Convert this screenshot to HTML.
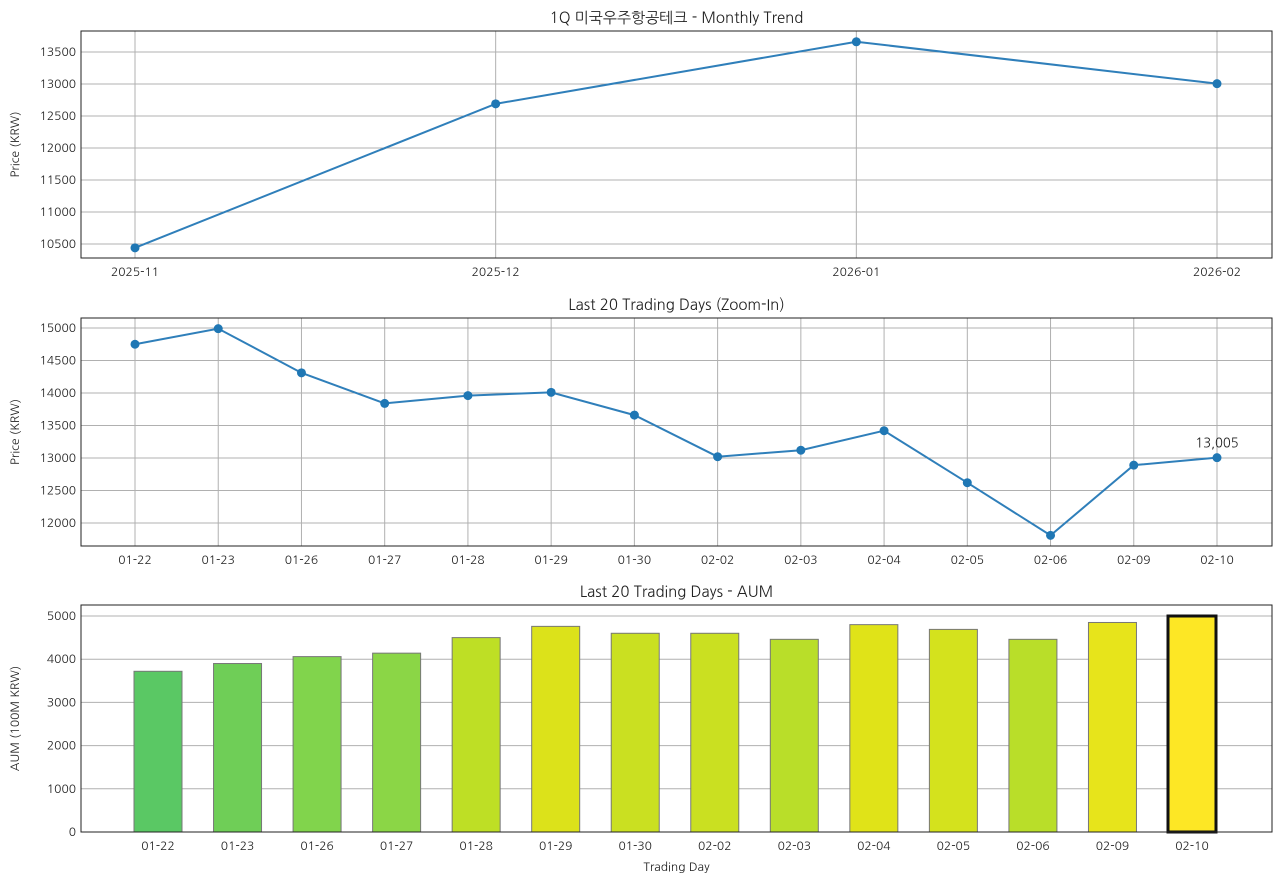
<!DOCTYPE html>
<html><head><meta charset="utf-8">
<style>
body{margin:0;background:#fff;}
svg text{font-family:"NanumGothic","Liberation Sans","Noto Sans CJK KR",sans-serif;fill:#222;}
</style></head>
<body>
<svg id="chart" width="1280" height="883" xmlns="http://www.w3.org/2000/svg"></svg>
<script>
const monthLabels = ["2025-11","2025-12","2026-01","2026-02"];
const monthValues = [10440, 12690, 13660, 13005];
const dayLabels = ["01-22","01-23","01-26","01-27","01-28","01-29","01-30","02-02","02-03","02-04","02-05","02-06","02-09","02-10"];
const dayValues = [14750,14990,14310,13840,13960,14010,13660,13020,13120,13420,12620,11810,12890,13005];
const aumValues = [3720,3900,4060,4140,4500,4760,4600,4600,4460,4800,4690,4460,4850,5000];
const ticks1 = [10500,11000,11500,12000,12500,13000,13500];
const ticks2 = [12000,12500,13000,13500,14000,14500,15000];
const ticks3 = [0,1000,2000,3000,4000,5000];

const svg = document.getElementById('chart');
const NS = 'http://www.w3.org/2000/svg';
function mk(tag, attrs, parent){const e=document.createElementNS(NS,tag);for(const k in attrs)e.setAttribute(k,attrs[k]);(parent||svg).appendChild(e);return e;}
function txt(s, attrs){const e=mk('text',attrs);e.textContent=s;return e;}

const L=81,R=1272;
function panel(top,bottom,title,ylabel,name){
  const g=mk('g',{});
  
  
  const t=txt(title,{x:(L+R)/2,y:top-8,'text-anchor':'middle','font-size':15});
  
  const yl=txt(ylabel,{x:0,y:0,'text-anchor':'middle','font-size':12,transform:`translate(19,${(top+bottom)/2}) rotate(-90)`});
  
  return g;
}
function frame(top,bottom){const r=mk('rect',{x:L,y:top,width:R-L,height:bottom-top,fill:'none',stroke:'#222','stroke-width':1});}

// Panel 1
(function(){
  const top=31,bottom=258;
  panel(top,bottom,'1Q 미국우주항공테크 - Monthly Trend','Price (KRW)','monthly-trend');
  const y=v=>244-(v-10500)*0.064;
  const x=i=>135+i*(1217-135)/(monthLabels.length-1);
  ticks1.forEach(v=>{mk('line',{x1:L,x2:R,y1:y(v),y2:y(v),stroke:'#b0b0b0'});
    const t=txt(v,{x:L-5,y:y(v)+4,'text-anchor':'end','font-size':12});});
  monthLabels.forEach((s,i)=>{mk('line',{x1:x(i),x2:x(i),y1:top,y2:bottom,stroke:'#b0b0b0'});
    const t=txt(s,{x:x(i),y:bottom+18,'text-anchor':'middle','font-size':12});});
  const p=mk('polyline',{points:monthValues.map((v,i)=>x(i)+','+y(v)).join(' '),fill:'none',stroke:'#2f7fba','stroke-width':2});
  
  monthValues.forEach((v,i)=>{const c=mk('circle',{cx:x(i),cy:y(v),r:4.5,fill:'#1f77b4'});});
  frame(top,bottom);
})();

// Panel 2
(function(){
  const top=318,bottom=546;
  panel(top,bottom,'Last 20 Trading Days (Zoom-In)','Price (KRW)','daily-price');
  const y=v=>523-(v-12000)*0.065;
  const x=i=>135+i*(1217-135)/(dayLabels.length-1);
  ticks2.forEach(v=>{mk('line',{x1:L,x2:R,y1:y(v),y2:y(v),stroke:'#b0b0b0'});
    const t=txt(v,{x:L-5,y:y(v)+4,'text-anchor':'end','font-size':12});});
  dayLabels.forEach((s,i)=>{mk('line',{x1:x(i),x2:x(i),y1:top,y2:bottom,stroke:'#b0b0b0'});
    const t=txt(s,{x:x(i),y:bottom+18,'text-anchor':'middle','font-size':12});});
  const p=mk('polyline',{points:dayValues.map((v,i)=>x(i)+','+y(v)).join(' '),fill:'none',stroke:'#2f7fba','stroke-width':2});
  
  dayValues.forEach((v,i)=>{const c=mk('circle',{cx:x(i),cy:y(v),r:4.5,fill:'#1f77b4'});});
  const n=dayValues.length-1;
  const a=txt(dayValues[n].toLocaleString('en-US'),{x:x(n),y:y(dayValues[n])-10,'text-anchor':'middle','font-size':13});
  
  frame(top,bottom);
})();

// Panel 3
(function(){
  const top=605,bottom=832;
  panel(top,bottom,'Last 20 Trading Days - AUM','AUM (100M KRW)','daily-aum');
  const y=v=>832-v*0.0432;
  const x=i=>158+i*(1192-158)/(dayLabels.length-1);
  ticks3.forEach(v=>{mk('line',{x1:L,x2:R,y1:y(v),y2:y(v),stroke:'#b0b0b0'});
    const t=txt(v,{x:L-5,y:y(v)+4,'text-anchor':'end','font-size':12});});
  const stops=[[0,[90,200,100]],[0.3,[134,213,73]],[0.6,[189,223,38]],[0.85,[225,227,24]],[1,[253,231,37]]];
  function col(t){for(let k=1;k<stops.length;k++){if(t<=stops[k][0]){const a=stops[k-1],b=stops[k];const f=(t-a[0])/(b[0]-a[0]);return 'rgb('+a[1].map((c,j)=>Math.round(c+(b[1][j]-c)*f)).join(',')+')';}}return 'rgb(253,231,37)';}
  const mn=Math.min(...aumValues),mx=Math.max(...aumValues);
  aumValues.forEach((v,i)=>{
    const last=i===aumValues.length-1;
    const r=mk('rect',{x:x(i)-24,y:y(v),width:48,height:y(0)-y(v),fill:col((v-mn)/(mx-mn)),stroke:last?'#111':'#777','stroke-width':last?3:1});
    
  });
  dayLabels.forEach((s,i)=>{const t=txt(s,{x:x(i),y:bottom+18,'text-anchor':'middle','font-size':12});});
  const xt=txt('Trading Day',{x:(L+R)/2,y:871,'text-anchor':'middle','font-size':12});
  
  frame(top,bottom);
})();
</script>
</body></html>
